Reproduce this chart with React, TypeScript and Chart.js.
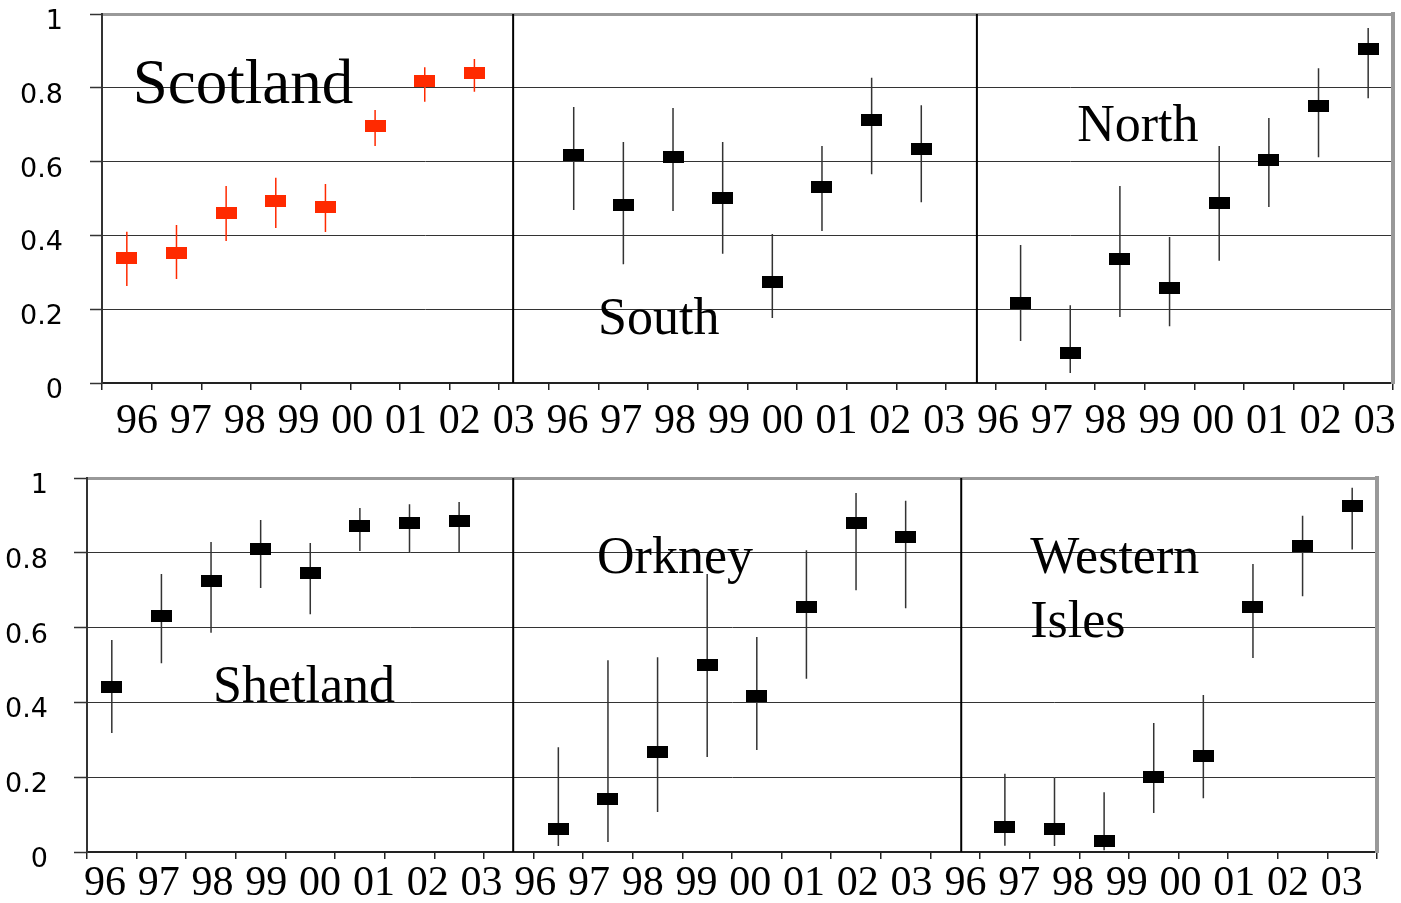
import React, { useEffect, useRef } from 'react';
import { Chart, registerables } from 'chart.js';

Chart.register(...registerables);

// ---- data ----
const years = ['96', '97', '98', '99', '00', '01', '02', '03'];
const yTickValues = [0, 0.2, 0.4, 0.6, 0.8, 1];
const yTickLabels = ['0', '0.2', '0.4', '0.6', '0.8', '1'];

const scotlandMean = [0.339, 0.352, 0.461, 0.493, 0.477, 0.696, 0.818, 0.84];
const scotlandLow = [0.263, 0.282, 0.385, 0.42, 0.409, 0.642, 0.762, 0.789];
const scotlandHigh = [0.41, 0.428, 0.534, 0.556, 0.539, 0.74, 0.856, 0.878];

const southMean = [0.618, 0.482, 0.612, 0.501, 0.274, 0.531, 0.713, 0.634];
const southLow = [0.469, 0.322, 0.466, 0.35, 0.176, 0.412, 0.566, 0.49];
const southHigh = [0.748, 0.653, 0.745, 0.653, 0.404, 0.642, 0.827, 0.753];

const northMean = [0.217, 0.081, 0.336, 0.257, 0.488, 0.604, 0.75, 0.905];
const northLow = [0.114, 0.027, 0.179, 0.154, 0.331, 0.477, 0.612, 0.772];
const northHigh = [0.374, 0.211, 0.534, 0.396, 0.642, 0.718, 0.853, 0.962];

const shetlandMean = [0.441, 0.631, 0.725, 0.81, 0.746, 0.872, 0.88, 0.885];
const shetlandLow = [0.318, 0.505, 0.586, 0.706, 0.636, 0.805, 0.8, 0.8];
const shetlandHigh = [0.567, 0.743, 0.829, 0.888, 0.826, 0.92, 0.93, 0.936];

const orkneyMean = [0.061, 0.143, 0.267, 0.5, 0.417, 0.655, 0.88, 0.842];
const orkneyLow = [0.016, 0.027, 0.107, 0.254, 0.273, 0.463, 0.7, 0.652];
const orkneyHigh = [0.28, 0.513, 0.521, 0.743, 0.575, 0.807, 0.96, 0.939];

const westernIslesMean = [0.066, 0.061, 0.03, 0.2, 0.257, 0.655, 0.819, 0.926];
const westernIslesLow = [0.017, 0.016, 0.005, 0.104, 0.144, 0.519, 0.684, 0.809];
const westernIslesHigh = [0.209, 0.198, 0.16, 0.345, 0.42, 0.77, 0.899, 0.974];

// ---- styling / layout ----
const RED = '#FF2A00';
const BLACK = '#000000';
const xLabels = [...years, ...years, ...years];

type Panel = { mean: number[]; low: number[]; high: number[]; color: string; whisker: string };
type Title = { text: string; x: number; y: number; size: number };
type RowSpec = {
  panels: Panel[];
  dividers: number[];
  titles: Title[];
  yAxisWidth: number;
  yTickPad: number;
  yTickLen: number;
  padTop: number;
  padRight: number;
  xAxisH: number;
  labelAxisH: number;
  labelPad: number;
  labelStart: number;
  labelStep: number;
};

const topSpec: RowSpec = {
  panels: [
    { mean: scotlandMean, low: scotlandLow, high: scotlandHigh, color: RED, whisker: RED },
    { mean: southMean, low: southLow, high: southHigh, color: BLACK, whisker: '#333' },
    { mean: northMean, low: northLow, high: northHigh, color: BLACK, whisker: '#333' },
  ],
  dividers: [8.28, 17.62],
  titles: [
    { text: 'Scotland', x: 0.62, y: 0.758, size: 63 },
    { text: 'South', x: 9.99, y: 0.133, size: 52 },
    { text: 'North', x: 19.64, y: 0.655, size: 52 },
  ],
  yAxisWidth: 102,
  yTickPad: 27,
  yTickLen: 12,
  padTop: 14,
  padRight: 8,
  xAxisH: 10,
  labelAxisH: 67,
  labelPad: 8,
  labelStart: 0.705,
  labelStep: 1.0837,
};

const bottomSpec: RowSpec = {
  panels: [
    { mean: shetlandMean, low: shetlandLow, high: shetlandHigh, color: BLACK, whisker: '#333' },
    { mean: orkneyMean, low: orkneyLow, high: orkneyHigh, color: BLACK, whisker: '#333' },
    { mean: westernIslesMean, low: westernIslesLow, high: westernIslesHigh, color: BLACK, whisker: '#333' },
  ],
  dividers: [8.59, 17.62],
  titles: [
    { text: 'Shetland', x: 2.54, y: 0.401, size: 52 },
    { text: 'Orkney', x: 10.28, y: 0.746, size: 52 },
    { text: 'Western', x: 19.01, y: 0.746, size: 52 },
    { text: 'Isles', x: 19.01, y: 0.575, size: 52 },
  ],
  yAxisWidth: 87,
  yTickPad: 26,
  yTickLen: 13,
  padTop: 18,
  padRight: 24,
  xAxisH: 8,
  labelAxisH: 43,
  labelPad: 3,
  labelStart: 0.363,
  labelStep: 1.0838,
};

function makeRect(color: string): HTMLCanvasElement {
  const c = document.createElement('canvas');
  c.width = 21;
  c.height = 12;
  const g = c.getContext('2d')!;
  g.fillStyle = color;
  g.fillRect(0, 0, 21, 12);
  return c;
}

const titlePlugin = {
  id: 'panelTitles',
  beforeDatasetsDraw(chart: any, _args: any, opts: any) {
    const { ctx } = chart;
    const xs = chart.scales.x;
    const ys = chart.scales.y;
    ctx.save();
    ctx.fillStyle = '#000';
    ctx.textAlign = 'left';
    ctx.textBaseline = 'alphabetic';
    for (const t of opts.items as Title[]) {
      ctx.font = `${t.size}px "Liberation Serif", "Times New Roman", serif`;
      ctx.fillText(t.text, xs.getPixelForValue(t.x), ys.getPixelForValue(t.y));
    }
    ctx.restore();
  },
};

function zeroPad(s: any) {
  s.paddingTop = 0;
  s.paddingBottom = 0;
  s.paddingLeft = 0;
  s.paddingRight = 0;
}

function buildConfig(spec: RowSpec): any {
  const datasets: any[] = [];
  spec.panels.forEach((p, pi) => {
    const xOf = (i: number) => pi * 9 + i + 0.5;
    datasets.push({
      type: 'line',
      data: p.mean.flatMap((_, i) => [
        { x: xOf(i), y: p.low[i] },
        { x: xOf(i), y: p.high[i] },
        { x: xOf(i), y: null },
      ]),
      borderColor: p.whisker,
      borderWidth: 1.5,
      pointRadius: 0,
      spanGaps: false,
      order: 2,
    });
    datasets.push({
      type: 'line',
      showLine: false,
      data: p.mean.map((m, i) => ({ x: xOf(i), y: m })),
      pointStyle: makeRect(p.color),
      pointRadius: 6,
      backgroundColor: p.color,
      borderColor: p.color,
      order: 1,
    });
  });
  spec.dividers.forEach((d) => {
    datasets.push({
      type: 'line',
      data: [
        { x: d, y: 0 },
        { x: d, y: 1 },
      ],
      borderColor: '#000',
      borderWidth: 2,
      pointRadius: 0,
      order: 3,
    });
  });

  return {
    type: 'line',
    data: { datasets },
    plugins: [titlePlugin],
    options: {
      animation: false,
      responsive: false,
      maintainAspectRatio: false,
      events: [],
      layout: { padding: { top: spec.padTop, right: spec.padRight, left: 0, bottom: 0 } },
      plugins: {
        legend: { display: false },
        tooltip: { enabled: false },
        panelTitles: { items: spec.titles },
      },
      scales: {
        x: {
          type: 'linear',
          position: 'bottom',
          min: 0,
          max: 26,
          weight: 0,
          afterBuildTicks: (s: any) => {
            s.ticks = Array.from({ length: 27 }, (_, k) => ({ value: k }));
          },
          afterFit: (s: any) => {
            s.height = spec.xAxisH;
            zeroPad(s);
          },
          ticks: { display: false },
          grid: {
            display: true,
            drawOnChartArea: false,
            drawTicks: true,
            tickLength: 7,
            color: '#222',
            lineWidth: 1.5,
          },
          border: { display: true, color: '#222', width: 2 },
        },
        xl: {
          type: 'linear',
          position: 'bottom',
          min: 0,
          max: 26,
          weight: 1,
          afterBuildTicks: (s: any) => {
            s.ticks = xLabels.map((_, i) => ({ value: spec.labelStart + i * spec.labelStep }));
          },
          afterFit: (s: any) => {
            s.height = spec.labelAxisH;
            zeroPad(s);
          },
          ticks: {
            autoSkip: false,
            maxRotation: 0,
            minRotation: 0,
            padding: spec.labelPad,
            color: '#000',
            font: { family: '"Liberation Serif", "Times New Roman", serif', size: 42, lineHeight: 1 },
            callback: (_v: any, i: number) => xLabels[i],
          },
          grid: { display: false, drawTicks: false },
          border: { display: false },
        },
        xt: {
          type: 'linear',
          position: 'top',
          min: 0,
          max: 26,
          afterFit: (s: any) => {
            s.height = 0;
            zeroPad(s);
          },
          ticks: { display: false },
          grid: { display: false, drawTicks: false },
          border: { display: true, color: '#999', width: 3 },
        },
        y: {
          type: 'linear',
          position: 'left',
          min: 0,
          max: 1,
          afterBuildTicks: (s: any) => {
            s.ticks = yTickValues.map((v) => ({ value: v }));
          },
          afterFit: (s: any) => {
            s.width = spec.yAxisWidth;
            zeroPad(s);
          },
          ticks: {
            padding: spec.yTickPad,
            labelOffset: 8,
            color: '#000',
            font: { family: '"DejaVu Sans", sans-serif', size: 27, lineHeight: 1 },
            callback: (_v: any, i: number) => yTickLabels[i],
          },
          grid: {
            color: (c: any) => (c.tick && c.tick.value === 1 ? 'rgba(0,0,0,0)' : '#333'),
            lineWidth: 1,
            drawTicks: true,
            tickLength: spec.yTickLen,
            tickColor: '#333',
            tickWidth: 1.5,
          },
          border: { display: true, color: '#333', width: 2 },
        },
        yr: {
          type: 'linear',
          position: 'right',
          min: 0,
          max: 1,
          afterFit: (s: any) => {
            s.width = 0;
            zeroPad(s);
          },
          ticks: { display: false },
          grid: { display: false, drawTicks: false },
          border: { display: true, color: '#999', width: 4 },
        },
      },
    },
  };
}

function ChartRow({ spec, top, height }: { spec: RowSpec; top: number; height: number }) {
  const ref = useRef<HTMLCanvasElement>(null);
  useEffect(() => {
    if (!ref.current) return;
    const chart = new Chart(ref.current, buildConfig(spec));
    return () => chart.destroy();
  }, [spec]);
  return (
    <canvas
      ref={ref}
      width={1401}
      height={height}
      style={{ position: 'absolute', left: 0, top, width: 1401, height, display: 'block' }}
    />
  );
}

export default function App() {
  return (
    <div style={{ position: 'absolute', left: 0, top: 0, width: 1401, height: 903, background: '#fff' }}>
      <ChartRow spec={topSpec} top={0} height={460} />
      <ChartRow spec={bottomSpec} top={460} height={443} />
    </div>
  );
}
